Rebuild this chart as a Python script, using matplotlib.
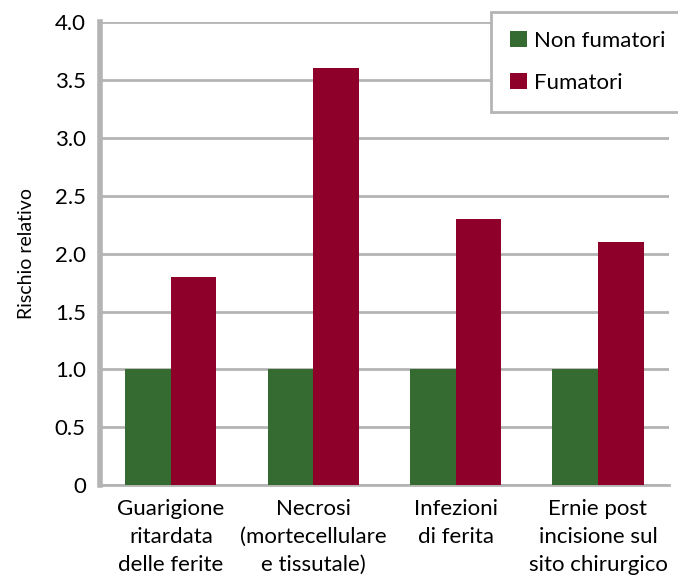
import numpy as np
import matplotlib.pyplot as plt

plt.rcParams['font.family'] = ['Lato', 'DejaVu Sans']

categorie = ["Guarigione\nritardata\ndelle ferite",
             "Necrosi\n(mortecellulare\ne tissutale)",
             "Infezioni\ndi ferita",
             "Ernie post\nincisione sul\nsito chirurgico"]
non_fumatori = [1.0, 1.0, 1.0, 1.0]
fumatori = [1.8, 3.6, 2.3, 2.1]

verde = "#356a30"
rosso = "#8e0029"
grigio = "#b4b4b4"

fig, ax = plt.subplots(figsize=(6.78, 5.79), dpi=100)
fig.subplots_adjust(left=0.147, right=0.987, top=0.962, bottom=0.162)

x = np.arange(len(categorie))
w = 0.32
ax.bar(x - w/2, non_fumatori, w, color=verde, label="Non fumatori", zorder=3)
ax.bar(x + w/2, fumatori, w, color=rosso, label="Fumatori", zorder=3)

ax.set_xlim(-0.5, len(categorie) - 0.5)
ax.set_ylim(0, 4.0)
ax.set_yticks(np.arange(0, 4.01, 0.5))
ax.set_yticklabels([f"{v:.1f}" if v > 0 else "0" for v in np.arange(0, 4.01, 0.5)])
ax.yaxis.grid(True, color=grigio, linewidth=2, zorder=0)
ax.set_axisbelow(True)

ax.set_xticks(x)
ax.set_xticklabels(categorie, fontsize=16, linespacing=1.5)
ax.tick_params(axis='y', labelsize=16, length=0, pad=10)
ax.tick_params(axis='x', length=0, pad=10)

for s in ['top', 'right']:
    ax.spines[s].set_visible(False)
ax.spines['left'].set_color(grigio)
ax.spines['left'].set_linewidth(4)
ax.spines['bottom'].set_color(grigio)
ax.spines['bottom'].set_linewidth(2)

ax.set_ylabel("Rischio relativo", fontsize=14, labelpad=14)

leg = ax.legend(loc='upper right', bbox_to_anchor=(1.026, 1.022), fontsize=16,
                fancybox=False, framealpha=1, edgecolor=grigio,
                handlelength=0.75, handleheight=0.75, borderpad=0.85,
                labelspacing=1.0, handletextpad=0.3, borderaxespad=0)
leg.get_frame().set_linewidth(2)

plt.savefig("out.png")
